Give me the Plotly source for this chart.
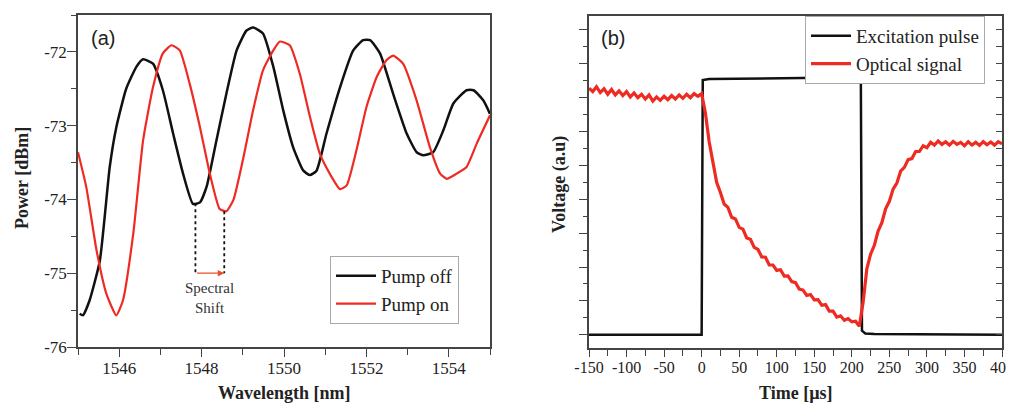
import plotly.graph_objects as go

# ---------------- Panel (a) data ----------------
wl_off = [1545.04, 1545.12, 1545.28, 1545.53, 1545.77, 1545.93, 1546.17, 1546.42, 1546.58, 1546.82,
          1547.06, 1547.31, 1547.55, 1547.79, 1547.96, 1548.12, 1548.36, 1548.60, 1548.85, 1549.09,
          1549.25, 1549.49, 1549.74, 1549.98, 1550.22, 1550.47, 1550.63, 1550.79, 1551.03, 1551.36,
          1551.68, 1551.92, 1552.09, 1552.33, 1552.65, 1552.98, 1553.22, 1553.38, 1553.62, 1553.87,
          1554.11, 1554.43, 1554.60, 1554.84, 1555.00]
pw_off = [-75.55, -75.57, -75.37, -74.83, -73.56, -73.02, -72.50, -72.20, -72.10, -72.16,
          -72.52, -73.11, -73.65, -74.06, -74.04, -73.83, -73.20, -72.57, -71.98, -71.71,
          -71.67, -71.75, -72.20, -72.79, -73.29, -73.61, -73.67, -73.61, -73.11, -72.48,
          -71.98, -71.84, -71.84, -72.02, -72.57, -73.11, -73.36, -73.40, -73.36, -73.06,
          -72.70, -72.52, -72.52, -72.66, -72.84]

wl_on = [1545.00, 1545.20, 1545.45, 1545.69, 1545.93, 1546.09, 1546.34, 1546.58, 1546.82, 1547.06,
         1547.27, 1547.47, 1547.71, 1547.96, 1548.20, 1548.44, 1548.60, 1548.77, 1549.00, 1549.25,
         1549.49, 1549.74, 1549.90, 1550.14, 1550.38, 1550.63, 1550.87, 1551.11, 1551.36, 1551.52,
         1551.76, 1552.00, 1552.25, 1552.49, 1552.65, 1552.89, 1553.22, 1553.54, 1553.79, 1553.95,
         1554.19, 1554.43, 1554.68, 1555.00]
pw_on = [-73.36, -73.83, -74.69, -75.28, -75.57, -75.37, -74.47, -73.20, -72.48, -72.02,
         -71.91, -71.98, -72.43, -73.02, -73.65, -74.13, -74.16, -74.01, -73.47, -72.79,
         -72.25, -71.98, -71.86, -71.91, -72.29, -72.88, -73.38, -73.65, -73.86, -73.81,
         -73.33, -72.75, -72.34, -72.11, -72.05, -72.16, -72.66, -73.29, -73.65, -73.72,
         -73.65, -73.56, -73.24, -72.86]

shift_min_off = (1547.85, -74.05)
shift_min_on = (1548.55, -74.16)
shift_level = -75.0

a_xticks = [1546, 1548, 1550, 1552, 1554]
a_yticks = [-76, -75, -74, -73, -72]
a_yticktext = ["-76", "-75", "-74", "-73", "-72"]

# ---------------- Panel (b) data ----------------
t_pulse = [-150, 0, 1.5, 10, 212, 213.5, 218, 230, 400]
v_pulse = [0.0, 0.0, 7.52, 7.55, 7.60, 0.12, 0.04, 0.02, 0.0]

t_sig = list(range(-150, 405, 5))
v_sig = [7.28, 7.18, 7.32, 7.15, 7.26, 7.10, 7.24, 7.08, 7.20, 7.06, 7.18, 7.02, 7.14, 7.00, 7.10,
         6.96, 7.08, 6.90, 7.02, 6.92, 7.04, 6.94, 7.06, 6.96, 7.08, 6.98, 7.10, 7.00, 7.12, 7.04,
         7.12,
         6.55, 5.70, 5.10, 4.50, 4.20, 3.86, 3.76, 3.47, 3.42, 3.17, 3.12, 2.86, 2.82, 2.58, 2.52,
         2.30, 2.29, 2.06, 2.06, 1.90, 1.92, 1.73, 1.74, 1.57, 1.54, 1.35, 1.32, 1.16, 1.19, 1.03,
         1.04, 0.87, 0.89, 0.70, 0.70, 0.52, 0.56, 0.43, 0.48, 0.38, 0.40, 0.25,
         0.95, 1.95, 2.38, 2.64, 3.06, 3.31, 3.72, 3.94, 4.30, 4.48, 4.83, 4.94, 5.17, 5.20, 5.41,
         5.41, 5.58, 5.52, 5.68, 5.60, 5.72, 5.62, 5.70, 5.60, 5.71, 5.62, 5.68, 5.58, 5.70, 5.60,
         5.68, 5.59, 5.70, 5.61, 5.69, 5.60, 5.70, 5.64]

b_xticks = [-150, -100, -50, 0, 50, 100, 150, 200, 250, 300, 350, 400]
b_xticktext = ["-150", "-100", "-50", "0", "50", "100", "150", "200", "250", "300", "350", "400"]

BLACK = "#111111"
RED = "#ee2b22"
SERIF = "Liberation Serif"
AXC = "#444444"

# page has an 8px body margin: figure is 1006x395 placed at (8, 8)
W, H, OFF = 1006, 395, 8


def px(X):
    return (X - OFF) / W


def py(Y):
    return 1 - (Y - OFF) / H


fig = go.Figure()
fig.add_trace(go.Scatter(x=wl_off, y=pw_off, mode="lines", name="Pump off",
                         line=dict(color=BLACK, width=2.5, shape="spline", smoothing=0.5),
                         xaxis="x", yaxis="y", legend="legend"))
fig.add_trace(go.Scatter(x=wl_on, y=pw_on, mode="lines", name="Pump on",
                         line=dict(color=RED, width=2.2, shape="spline", smoothing=0.5),
                         xaxis="x", yaxis="y", legend="legend"))
fig.add_trace(go.Scatter(x=t_pulse, y=v_pulse, mode="lines", name="Excitation pulse",
                         line=dict(color=BLACK, width=2.5),
                         xaxis="x2", yaxis="y2", legend="legend2"))
fig.add_trace(go.Scatter(x=t_sig, y=v_sig, mode="lines", name="Optical signal",
                         line=dict(color=RED, width=3.2),
                         xaxis="x2", yaxis="y2", legend="legend2"))
fig.add_trace(go.Scatter(x=[None], y=[None], xaxis="x2", yaxis="y3", showlegend=False))

tickfont = dict(family=SERIF, size=17, color="#222222")
common = dict(showgrid=False, zeroline=False, showline=True, linecolor=AXC, linewidth=1.5,
              ticks="outside", tickcolor=AXC, tickwidth=1.3, tickfont=tickfont, automargin=False)

fig.update_layout(
    width=W, height=H, margin=dict(l=0, r=0, t=0, b=0, autoexpand=False),
    paper_bgcolor="white", plot_bgcolor="white",
    xaxis=dict(domain=[px(78), px(490)], range=[1545, 1555], tickvals=a_xticks, ticklen=8,
               minor=dict(dtick=1, ticks="outside", ticklen=6, tickcolor=AXC), mirror=True,
               anchor="y", ticklabeloverflow="allow", ticklabelstandoff=-3, **common),
    yaxis=dict(domain=[py(347), py(15)], range=[-76, -71.5], tickvals=a_yticks, ticktext=a_yticktext,
               ticklen=9, minor=dict(dtick=0.5, ticks="outside", ticklen=5, tickcolor=AXC),
               mirror=True, anchor="x", ticklabelstandoff=-3, **common),
    xaxis2=dict(domain=[px(589), px(1002)], range=[-150, 400], tickvals=b_xticks, ticktext=b_xticktext,
                ticklen=7, minor=dict(dtick=25, ticks="outside", ticklen=6, tickcolor=AXC),
                mirror=True, anchor="y2", ticklabeloverflow="allow", ticklabelstandoff=-3,
                **{**common, "tickfont": dict(family=SERIF, size=16, color="#222222")}),
    yaxis2=dict(domain=[py(348), py(16)], range=[-0.39, 9.41], dtick=1, tick0=0, showticklabels=False,
                ticklen=8, minor=dict(dtick=0.5, ticks="outside", ticklen=4, tickcolor=AXC),
                mirror=True, anchor="x2", **common),
    yaxis3=dict(overlaying="y2", side="right", anchor="x2", range=[-0.39, 9.41], dtick=0.5, tick0=0,
                showticklabels=False, showgrid=False, zeroline=False, showline=False, automargin=False,
                ticks="inside", ticklen=6, tickcolor=AXC, tickwidth=1.3),
    legend=dict(x=px(330), y=py(256), xanchor="left", yanchor="top", bgcolor="white",
                bordercolor="#aaaaaa", borderwidth=1, font=dict(family=SERIF, size=19, color="#222222"),
                tracegroupgap=0, itemwidth=40),
    legend2=dict(x=px(805), y=py(16), xanchor="left", yanchor="top", bgcolor="white",
                 bordercolor="#aaaaaa", borderwidth=1, font=dict(family=SERIF, size=19, color="#222222"),
                 tracegroupgap=0, itemwidth=40),
    showlegend=True,
)

# Spectral shift markers
for (sx, sy) in (shift_min_off, shift_min_on):
    fig.add_shape(type="line", xref="x", yref="y", x0=sx, x1=sx, y0=sy, y1=shift_level,
                  line=dict(color="#111111", width=1.8, dash="dot"))
fig.add_annotation(xref="x", yref="y", axref="x", ayref="y",
                   x=shift_min_on[0], y=shift_level, ax=shift_min_off[0], ay=shift_level,
                   showarrow=True, arrowhead=2, arrowsize=1, arrowwidth=1.3, arrowcolor="#e8502a", text="")
fig.add_annotation(xref="x", yref="y", x=(shift_min_off[0] + shift_min_on[0]) / 2, y=-75.33,
                   text="Spectral<br>Shift", showarrow=False, xanchor="center", yanchor="middle",
                   font=dict(family=SERIF, size=15, color="#333333"))

# Panel labels
lab = dict(showarrow=False, xanchor="center", yanchor="middle",
           font=dict(family="Liberation Sans", size=20, color="#222222"))
fig.add_annotation(xref="paper", yref="paper", x=px(103), y=py(38), text="(a)", **lab)
fig.add_annotation(xref="paper", yref="paper", x=px(613), y=py(38), text="(b)", **lab)

# Axis titles
tt = dict(showarrow=False, xanchor="center", yanchor="middle",
          font=dict(family=SERIF, size=18, color="#222222"))
fig.add_annotation(xref="paper", yref="paper", x=px(284), y=py(393), text="<b>Wavelength [nm]</b>", **tt)
fig.add_annotation(xref="paper", yref="paper", x=px(22), y=py(178), text="<b>Power [dBm]</b>",
                   textangle=-90, **tt)
fig.add_annotation(xref="paper", yref="paper", x=px(796), y=py(393), text="<b>Time [µs]</b>", **tt)
fig.add_annotation(xref="paper", yref="paper", x=px(560), y=py(185), text="<b>Voltage (a.u)</b>",
                   textangle=-90, **tt)

fig.write_html("out.html")
